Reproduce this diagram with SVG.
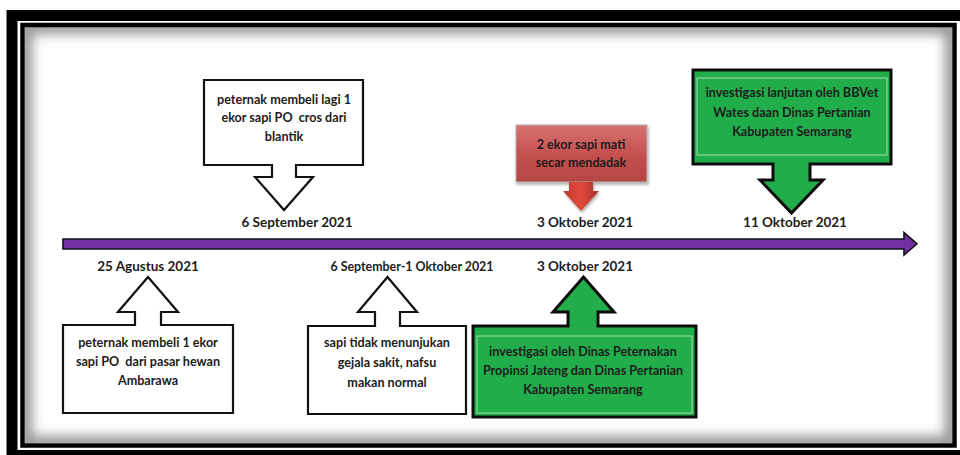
<svg xmlns="http://www.w3.org/2000/svg" width="960" height="455" viewBox="0 0 960 455">
<defs>
<style>
.t{font-family:Lato,"Liberation Sans",sans-serif;font-weight:bold;font-size:12.6px;fill:#1c1c1c;text-anchor:middle;white-space:pre}
.d{font-family:Lato,"Liberation Sans",sans-serif;font-weight:bold;font-size:13.5px;fill:#1c1c1c;text-anchor:middle}
.wb{fill:#fff;stroke:#111;stroke-width:2.2;stroke-linejoin:miter}
.gb{fill:#22ad4b;stroke:#0d0d0d;stroke-width:3;stroke-linejoin:miter}
.gi{fill:none;stroke:#9fe0a9;stroke-width:1}
</style>
<clipPath id="panel"><rect x="25" y="27" width="927" height="416"/></clipPath>
<filter id="blur" x="-5%" y="-5%" width="110%" height="110%"><feGaussianBlur stdDeviation="6"/></filter>
<linearGradient id="redg" x1="0" y1="0" x2="0" y2="1">
<stop offset="0" stop-color="#d67472"/><stop offset="0.5" stop-color="#c4514f"/><stop offset="1" stop-color="#b44543"/>
</linearGradient>
<linearGradient id="reda" x1="0" y1="0" x2="1" y2="0">
<stop offset="0" stop-color="#c23a30"/><stop offset="0.5" stop-color="#e04a3c"/><stop offset="1" stop-color="#a8302a"/>
</linearGradient>
<filter id="sh" x="-10%" y="-10%" width="130%" height="140%"><feDropShadow dx="1" dy="2" stdDeviation="1.5" flood-color="#000" flood-opacity="0.35"/></filter>
</defs>

<!-- frame -->
<g id="frame">
<rect x="0" y="0" width="960" height="455" fill="#fff"/>
<rect x="12" y="15.5" width="960" height="440" fill="none" stroke="#000" stroke-width="11"/>
<rect x="25" y="27" width="927" height="416" fill="#fff"/>
<g clip-path="url(#panel)">
<rect x="25" y="27" width="927" height="416" fill="none" stroke="#3a3a3a" stroke-width="14" filter="url(#blur)" opacity="0.55"/>
</g>
<rect x="22.5" y="25" width="932" height="420.5" fill="none" stroke="#000" stroke-width="4.5"/>
</g>

<!-- connectors: timeline -->
<g id="connectors">
<path d="M63,239 H904 V232.5 L917,243.8 L904,255 V249 H63 Z" fill="#7030a0" stroke="#111" stroke-width="1.6"/>
</g>

<g id="e1-25agustus">
<path class="wb" d="M63,325 H135 V312 H118 L148,277 L178,312 H161 V325 H233 V413 H63 Z"/>
<text class="d" x="148" y="271">25 Agustus 2021</text>
<text class="t" x="148" y="347">peternak membeli 1 ekor</text>
<text class="t" x="148" y="366">sapi PO  dari pasar hewan</text>
<text class="t" x="148" y="385">Ambarawa</text>
</g>

<g id="e2-6september">
<path class="wb" d="M204,80 H363 V165 H296 V177 H313 L284,210 L255,177 H272 V165 H204 Z"/>
<text class="t" x="284" y="104">peternak membeli lagi 1</text>
<text class="t" x="284" y="122">ekor sapi PO  cros dari</text>
<text class="t" x="284" y="141">blantik</text>
<text class="d" x="297" y="227">6 September 2021</text>
</g>

<g id="e3-6sep-1okt">
<path class="wb" d="M308,326 H375 V312 H358 L387.5,277 L417,312 H400 V326 H466 V414 H308 Z"/>
<text class="d" x="412" y="271" textLength="163" lengthAdjust="spacingAndGlyphs">6 September-1 Oktober 2021</text>
<text class="t" x="387" y="347">sapi tidak menunjukan</text>
<text class="t" x="387" y="367">gejala sakit, nafsu</text>
<text class="t" x="387" y="387">makan normal</text>
</g>

<g id="e4-3oktober-mati">
<rect x="516" y="125" width="131" height="57" fill="url(#redg)" stroke="#b8b0b0" stroke-width="1" filter="url(#sh)"/>
<path d="M569,182 H593 V191 H599 L581,211 L563,191 H569 Z" fill="url(#reda)" filter="url(#sh)"/>
<text class="t" x="581" y="149">2 ekor sapi mati</text>
<text class="t" x="581" y="167">secar mendadak</text>
<text class="d" x="585" y="227">3 Oktober 2021</text>
</g>

<g id="e5-3oktober-investigasi">
<path class="gb" d="M473,326 H568 V312 H553 L583.5,277 L614,312 H598 V326 H696 V417 H473 Z"/>
<rect class="gi" x="477" y="336" width="215" height="77"/>
<text class="d" x="585" y="271">3 Oktober 2021</text>
<text class="t" x="583" y="356">investigasi oleh Dinas Peternakan</text>
<text class="t" x="583" y="375">Propinsi Jateng dan Dinas Pertanian</text>
<text class="t" x="583" y="394">Kabupaten Semarang</text>
</g>

<g id="e6-11oktober">
<path class="gb" d="M693,70 H891 V164 H810 V180 H823 L791.5,213 L760,180 H773 V164 H693 Z"/>
<rect class="gi" x="697" y="78" width="190" height="77"/>
<text class="t" x="792" y="97">investigasi lanjutan oleh BBVet</text>
<text class="t" x="792" y="117">Wates daan Dinas Pertanian</text>
<text class="t" x="792" y="136">Kabupaten Semarang</text>
<text class="d" x="795" y="227">11 Oktober 2021</text>
</g>
</svg>
